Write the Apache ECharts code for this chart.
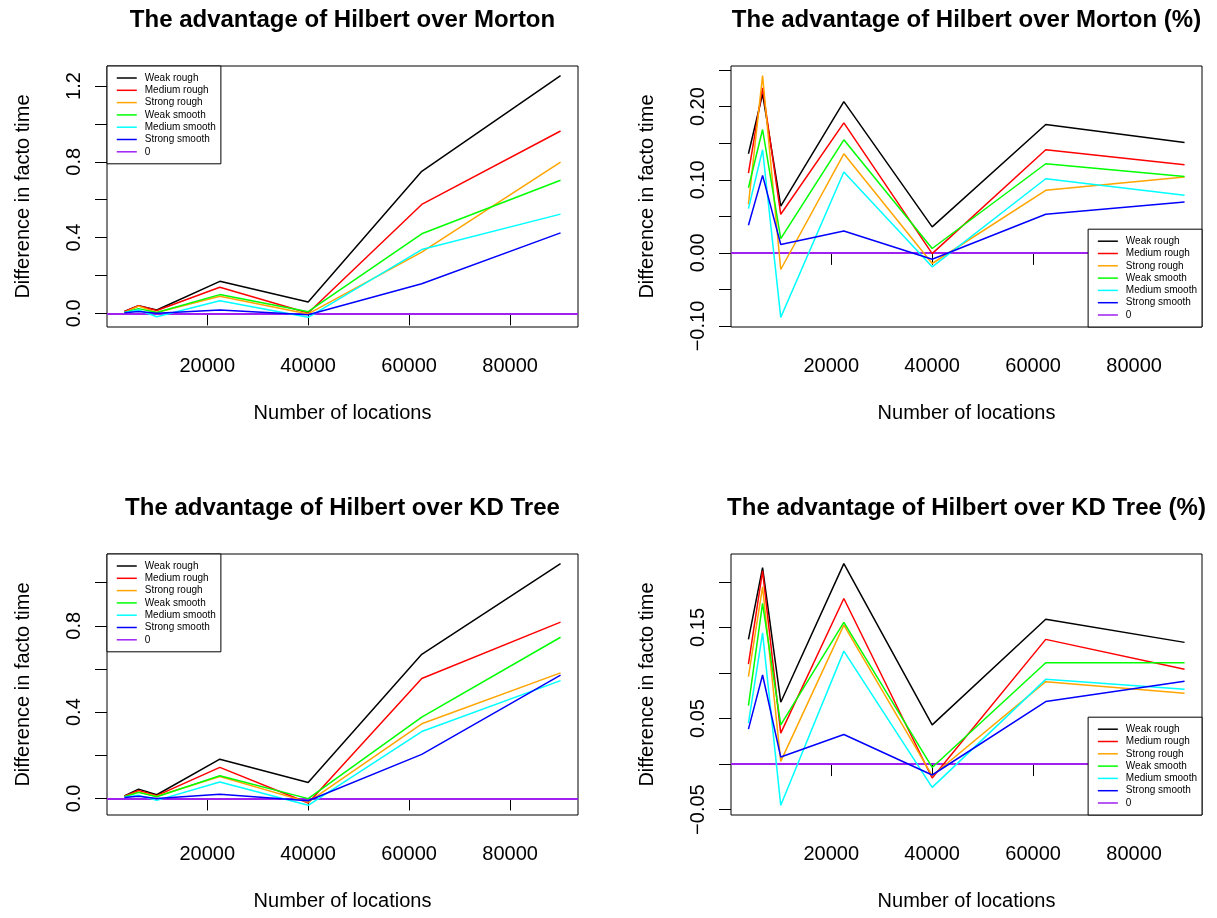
<!DOCTYPE html>
<html><head><meta charset="utf-8">
<script src="https://cdn.jsdelivr.net/npm/echarts@6/dist/echarts.min.js"></script>
<style>html,body{margin:0;padding:0;background:#fff}#c{width:1217px;height:918px}</style>
</head><body><div id="c"></div>
<script>
// ---------- data ----------
const locations = [3600, 6400, 10000, 22500, 40000, 62500, 90000];
const seriesNames = ['Weak rough', 'Medium rough', 'Strong rough', 'Weak smooth', 'Medium smooth', 'Strong smooth'];
const zeroName = '0';
const titles = ['The advantage of Hilbert over Morton', 'The advantage of Hilbert over Morton (%)',
                'The advantage of Hilbert over KD Tree', 'The advantage of Hilbert over KD Tree (%)'];
const xName = 'Number of locations';
const yName = 'Difference in facto time';

// Panel 1: Hilbert vs Morton (absolute)
const mortonWeakRough     = [0.010, 0.040, 0.018, 0.169, 0.060, 0.750, 1.255];
const mortonMediumRough   = [0.010, 0.040, 0.015, 0.138, 0.002, 0.575, 0.963];
const mortonStrongRough   = [0.005, 0.038, 0.005, 0.090, -0.003, 0.323, 0.798];
const mortonWeakSmooth    = [0.005, 0.025, 0.005, 0.099, 0.009, 0.420, 0.703];
const mortonMediumSmooth  = [0.005, 0.018, -0.018, 0.067, -0.021, 0.337, 0.524];
const mortonStrongSmooth  = [0.003, 0.010, 0.000, 0.018, -0.007, 0.156, 0.425];
// Panel 2: Hilbert vs Morton (%)
const mortonPctWeakRough    = [0.1355, 0.2173, 0.064, 0.2069, 0.0355, 0.1755, 0.151];
const mortonPctMediumRough  = [0.109, 0.2255, 0.0528, 0.1778, -0.001, 0.141, 0.1205];
const mortonPctStrongRough  = [0.0664, 0.2423, -0.0227, 0.1355, -0.0145, 0.0855, 0.1037];
const mortonPctWeakSmooth   = [0.089, 0.1687, 0.0196, 0.1546, 0.006, 0.1219, 0.1046];
const mortonPctMediumSmooth = [0.0605, 0.141, -0.0881, 0.1105, -0.019, 0.1014, 0.0787];
const mortonPctStrongSmooth = [0.0378, 0.106, 0.0115, 0.030, -0.0086, 0.0528, 0.0696];
// Panel 3: Hilbert vs KD Tree (absolute)
const kdWeakRough     = [0.012, 0.043, 0.017, 0.182, 0.074, 0.668, 1.088];
const kdMediumRough   = [0.010, 0.037, 0.013, 0.144, -0.021, 0.556, 0.817];
const kdStrongRough   = [0.008, 0.030, 0.010, 0.102, -0.017, 0.346, 0.582];
const kdWeakSmooth    = [0.008, 0.028, 0.008, 0.105, -0.001, 0.377, 0.747];
const kdMediumSmooth  = [0.005, 0.015, -0.009, 0.076, -0.032, 0.310, 0.546];
const kdStrongSmooth  = [0.004, 0.010, 0.000, 0.019, -0.011, 0.204, 0.571];
// Panel 4: Hilbert vs KD Tree (%)
const kdPctWeakRough    = [0.1369, 0.2157, 0.0679, 0.220, 0.043, 0.159, 0.1336];
const kdPctMediumRough  = [0.1098, 0.212, 0.034, 0.1818, -0.0153, 0.1369, 0.104];
const kdPctStrongRough  = [0.0959, 0.1945, 0.0029, 0.1525, -0.0128, 0.0905, 0.0777];
const kdPctWeakSmooth   = [0.0642, 0.1763, 0.043, 0.1555, -0.0037, 0.1113, 0.1113];
const kdPctMediumSmooth = [0.0449, 0.1441, -0.0453, 0.124, -0.0256, 0.093, 0.0821];
const kdPctStrongSmooth = [0.0383, 0.0978, 0.0077, 0.0324, -0.012, 0.0686, 0.0909];

// ticks / labels
const xTicks = [20000, 40000, 60000, 80000];
const p1Ticks = [0, 0.2, 0.4, 0.6, 0.8, 1.0, 1.2];
const p1Labels = [0, 0.4, 0.8, 1.2];
const p2Ticks = [-0.10, -0.05, 0, 0.05, 0.10, 0.15, 0.20, 0.25];
const p2Labels = [-0.10, 0, 0.10, 0.20];
const p3Ticks = [0, 0.2, 0.4, 0.6, 0.8, 1.0];
const p3Labels = [0, 0.4, 0.8];
const p4Ticks = [-0.05, 0, 0.05, 0.10, 0.15, 0.20];
const p4Labels = [-0.05, 0.05, 0.15];

// ---------- styling / layout ----------
const colors = ['#000000', '#FF0000', '#FFA500', '#00FF00', '#00FFFF', '#0000FF'];
const zeroColor = '#A020F0';
const FONT = 'Liberation Sans, Arial, Helvetica, sans-serif';

const panels = [
  {values: [mortonWeakRough, mortonMediumRough, mortonStrongRough, mortonWeakSmooth, mortonMediumSmooth, mortonStrongSmooth],
   ticks: p1Ticks, labels: p1Labels, digits: 1, left: 107, top: 66, legendRight: false},
  {values: [mortonPctWeakRough, mortonPctMediumRough, mortonPctStrongRough, mortonPctWeakSmooth, mortonPctMediumSmooth, mortonPctStrongSmooth],
   ticks: p2Ticks, labels: p2Labels, digits: 2, left: 731, top: 66, legendRight: true},
  {values: [kdWeakRough, kdMediumRough, kdStrongRough, kdWeakSmooth, kdMediumSmooth, kdStrongSmooth],
   ticks: p3Ticks, labels: p3Labels, digits: 1, left: 107, top: 554, legendRight: false},
  {values: [kdPctWeakRough, kdPctMediumRough, kdPctStrongRough, kdPctWeakSmooth, kdPctMediumSmooth, kdPctStrongSmooth],
   ticks: p4Ticks, labels: p4Labels, digits: 2, left: 731, top: 554, legendRight: true}
];
const GW = 471, GH = 261, W = 1217, H = 918;

function rRange(arr) { // R default axis extension (4%)
  const mn = Math.min(...arr), mx = Math.max(...arr);
  const d = (mx - mn) * 0.04;
  return [mn - d, mx + d];
}
const xr = rRange(locations);

const grid = [], xAxis = [], yAxis = [], series = [], legend = [], title = [];
panels.forEach((p, i) => {
  grid.push({left: p.left, top: p.top, width: GW, height: GH, show: true, borderColor: '#000', borderWidth: 1, containLabel: false});
  title.push({text: titles[i], left: p.left + GW / 2, top: p.top - 58, textAlign: 'center', padding: 0,
    textStyle: {fontFamily: FONT, fontSize: 24, fontWeight: 'bold', color: '#000'}});
  xAxis.push({type: 'value', gridIndex: i, min: xr[0], max: xr[1],
    axisLine: {show: false}, splitLine: {show: false},
    axisTick: {show: true, length: 12, inside: false, customValues: xTicks, lineStyle: {color: '#000', width: 1}},
    axisLabel: {customValues: xTicks, margin: 29, color: '#000', fontFamily: FONT, fontSize: 20, formatter: v => String(v)},
    name: xName, nameLocation: 'middle', nameGap: 76,
    nameTextStyle: {fontFamily: FONT, fontSize: 20, color: '#000'}});
  const yr = rRange([].concat(...p.values));
  yAxis.push({type: 'value', gridIndex: i, min: yr[0], max: yr[1],
    axisLine: {show: false}, splitLine: {show: false},
    axisTick: {show: true, length: 12, inside: false, customValues: p.ticks, lineStyle: {color: '#000', width: 1}},
    axisLabel: {customValues: p.labels, margin: 23, rotate: 90, color: '#000', fontFamily: FONT, fontSize: 20,
      formatter: v => { const s = Math.abs(v).toFixed(p.digits); return (v < -1e-9 ? '\u2212' : '') + s; }},
    name: yName, nameLocation: 'middle', nameGap: 74,
    nameTextStyle: {fontFamily: FONT, fontSize: 20, color: '#000'}});
  p.values.forEach((vals, k) => {
    series.push({type: 'line', name: seriesNames[k], xAxisIndex: i, yAxisIndex: i,
      data: locations.map((x, j) => [x, vals[j]]), symbol: 'none', silent: true,
      lineStyle: {color: colors[k], width: 1.5}, itemStyle: {color: colors[k]}});
  });
  series.push({type: 'line', name: zeroName, xAxisIndex: i, yAxisIndex: i, data: [], symbol: 'none', silent: true,
    lineStyle: {color: zeroColor, width: 2}, itemStyle: {color: zeroColor},
    markLine: {silent: true, z: 3, symbol: ['none', 'none'], label: {show: false}, animation: false,
      lineStyle: {color: zeroColor, width: 2, type: 'solid'}, data: [{yAxis: 0}]}});
  const lg = {orient: 'vertical', data: seriesNames.concat([zeroName]), selectedMode: false, z: 20,
    backgroundColor: '#fff', borderColor: '#000', borderWidth: 1, borderRadius: 0,
    padding: [7, 5, 7, 9], itemWidth: 20, itemHeight: 10, itemGap: 2.3,
    itemStyle: {opacity: 0}, lineStyle: {width: 1.5},
    textStyle: {fontFamily: FONT, fontSize: 10, color: '#000', padding: [0, 0, 0, 3]}};
  if (p.legendRight) { lg.right = W - (p.left + GW); lg.bottom = H - (p.top + GH); }
  else { lg.left = p.left; lg.top = p.top; }
  legend.push(lg);
});

const chart = echarts.init(document.getElementById('c'), null, {renderer: 'canvas'});
chart.setOption({animation: false, backgroundColor: '#fff', title, grid, xAxis, yAxis, series, legend});
</script>
</body></html>
